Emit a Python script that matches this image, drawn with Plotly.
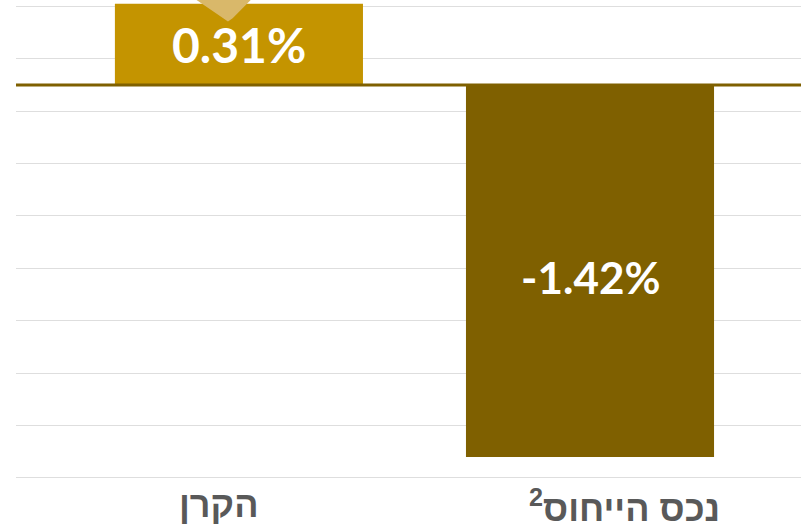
import plotly.graph_objects as go

categories = ["הקרן", "נכס הייחוס<sup>2</sup>"]
values = [0.31, -1.42]
labels = ["0.31%", "-1.42%"]
colors = ["#C49400", "#7F6000"]
y_ticks = [0.3, 0.1, -0.1, -0.3, -0.5, -0.7, -0.9, -1.1, -1.3, -1.5]

fig = go.Figure()
fig.add_trace(go.Bar(x=categories, y=values, marker=dict(color=colors, line_width=0),
                     width=0.7066, hoverinfo="skip"))
fig.add_shape(type="line", xref="paper", x0=0, x1=1, yref="y", y0=0, y1=0,
              line=dict(color="#7F6000", width=3))
# small decorative fragment at the top of the first bar
fig.add_shape(type="path", xref="paper", yref="paper",
              path="M 0.2300 1 L 0.2640 0.962 L 0.2700 0.955 L 0.2760 0.962 L 0.2990 1 Z",
              fillcolor="#D9B86A", line_width=0, layer="above")
for cat, val, lab, ysh, fs in zip(categories, values, labels, [0, -6], [48, 44]):
    fig.add_annotation(x=cat, y=val / 2, text=lab, showarrow=False, yshift=ysh,
                       font=dict(family="Lato", size=fs, color="white", weight=700))
for cat, xsh, ysh in zip(categories, [-20, 34], [-48, -52]):
    fig.add_annotation(x=cat, yref="paper", y=0, text="<b>%s</b>" % cat, showarrow=False,
                       xshift=xsh, yshift=ysh,
                       font=dict(family="Liberation Sans", size=36, color="#595959"))
fig.update_layout(width=801, height=526, autosize=False, showlegend=False, plot_bgcolor="white",
                  paper_bgcolor="white", margin=dict(l=16, r=0, t=0, b=47),
                  font=dict(family="Liberation Sans", color="#595959"))
fig.update_xaxes(range=[-0.635, 1.601], showline=False, ticks="", showgrid=False, zeroline=False,
                 showticklabels=False)
fig.update_yaxes(range=[-1.504, 0.324], tickvals=y_ticks, showticklabels=False, gridcolor="#DEDEDE",
                 gridwidth=1, zeroline=False, showline=False, ticks="")
fig.write_html("out.html", config={"displayModeBar": False},
               post_script="document.body.style.margin='0';document.documentElement.style.overflow='hidden';")
